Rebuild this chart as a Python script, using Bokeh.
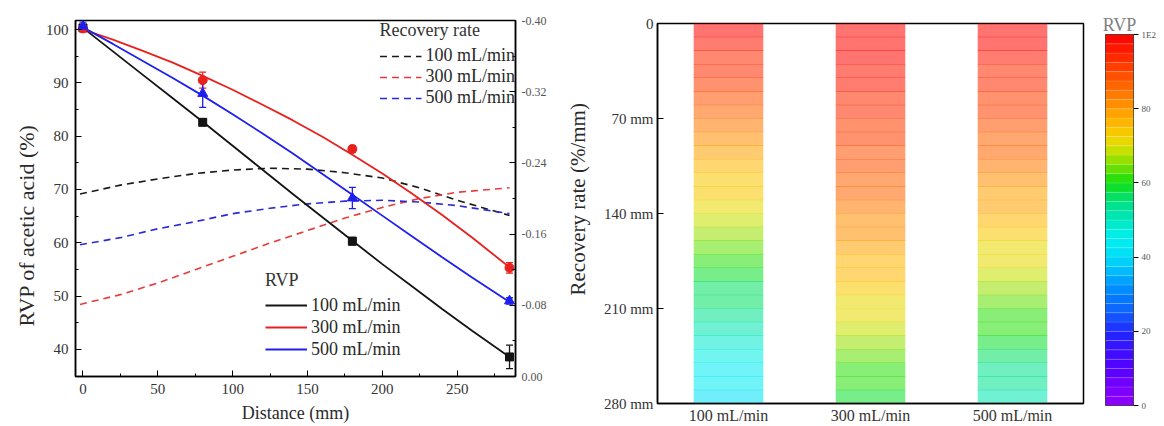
from bokeh.plotting import figure
from bokeh.models import (Range1d, LinearAxis, Legend, LegendItem, Whisker, TeeHead,
                          ColumnDataSource, FixedTicker, LinearColorMapper,
                          FactorRange, PrintfTickFormatter, Title)
from bokeh.layouts import row
from bokeh.embed import file_html
from bokeh.resources import INLINE

FONT = "Liberation Serif"
TXT = "#2a2a2a"

# ---------------- data: left panel ----------------
flows = ["100 mL/min", "300 mL/min", "500 mL/min"]
distance = [0, 80, 180, 285]
rvp_100 = [100.3, 82.6, 60.3, 38.6]
rvp_300 = [100.2, 90.5, 77.6, 55.3]
rvp_500 = [100.6, 88.0, 68.4, 49.1]
err_100 = [0.5, 0.6, 0.7, 2.2]
err_300 = [0.4, 1.5, 0.6, 1.0]
err_500 = [0.8, 2.6, 2.0, 0.6]

fit_x = [0, 20, 40, 60, 80, 100, 120, 140, 160, 180, 200, 220, 240, 260, 285]
fit_100 = [100.3, 95.9, 91.5, 87.1, 82.7, 78.2, 73.7, 69.2, 64.8, 60.4, 56.0, 51.8, 47.6, 43.5, 38.6]
fit_300 = [100.0, 98.1, 96.0, 93.8, 91.3, 88.7, 85.9, 83.0, 79.9, 76.5, 73.0, 69.2, 65.2, 61.0, 55.4]
fit_500 = [100.4, 97.3, 94.1, 90.9, 87.6, 84.1, 80.5, 76.8, 72.9, 69.0, 65.1, 61.2, 57.3, 53.5, 48.9]

rate_x = [-2, 25, 50, 75, 100, 125, 150, 175, 200, 225, 250, 285]
rate_100 = [-0.205, -0.215, -0.222, -0.228, -0.232, -0.234, -0.233, -0.229, -0.223, -0.212, -0.198, -0.181]
rate_300 = [-0.081, -0.092, -0.105, -0.120, -0.135, -0.150, -0.164, -0.178, -0.190, -0.200, -0.207, -0.212]
rate_500 = [-0.148, -0.156, -0.166, -0.174, -0.183, -0.189, -0.194, -0.197, -0.198, -0.196, -0.192, -0.183]

left_ticks = [40, 50, 60, 70, 80, 90, 100]
bottom_ticks = [0, 50, 100, 150, 200, 250]
right_ticks = [0.0, -0.08, -0.16, -0.24, -0.32, -0.40]

# ---------------- data: right panel (heat map) ----------------
depth = [5, 15, 25, 35, 45, 55, 65, 75, 85, 95, 105, 115, 125, 135,
         145, 155, 165, 175, 185, 195, 205, 215, 225, 235, 245, 255, 265, 275]
map_100 = [99.2, 97.1, 94.9, 92.6, 90.4, 88.2, 85.9, 83.7, 81.5, 79.3, 77.0, 74.8, 72.6, 70.4,
           68.1, 65.9, 63.7, 61.6, 59.4, 57.3, 55.2, 53.1, 51.0, 48.9, 46.8, 44.8, 42.7, 40.6]
map_300 = [99.5, 98.5, 97.5, 96.5, 95.4, 94.2, 93.0, 91.9, 90.6, 89.3, 87.9, 86.6, 85.2, 83.6,
           82.2, 80.6, 79.0, 77.3, 75.6, 73.9, 72.0, 70.1, 68.2, 66.3, 64.3, 62.2, 60.1, 57.8]
map_500 = [99.6, 98.0, 96.5, 94.9, 93.3, 91.7, 90.0, 88.4, 86.7, 85.0, 83.2, 81.4, 79.6, 77.8,
           75.8, 73.9, 71.9, 70.0, 68.0, 66.1, 64.1, 62.2, 60.2, 58.3, 56.3, 54.5, 52.6, 50.8]
depth_ticks = [0, 70, 140, 210, 280]
depth_labels = ["0", "70 mm", "140 mm", "210 mm", "280 mm"]
cbar_ticks = [0, 20, 40, 60, 80, 100]
cbar_labels = ["0", "20", "40", "60", "80", "1E2"]

# ---------------- palette (style) ----------------
anchors = [(0, "#9000ff"), (5, "#7800ff"), (10, "#5500ff"), (15, "#3a10ff"), (20, "#2028ff"),
           (25, "#1060ff"), (30, "#0080ff"), (35, "#00b0ff"), (40, "#00dcf8"), (45, "#00f0f0"),
           (50, "#00e8c0"), (55, "#00e080"), (60, "#10e010"), (65, "#80e000"), (70, "#e0e000"),
           (75, "#ffc000"), (80, "#ff9900"), (85, "#ff7000"), (90, "#ff4800"), (95, "#ff2000"),
           (100, "#ff0000")]


def _hex(c):
    return [int(c[i:i + 2], 16) for i in (1, 3, 5)]


def colour_at(v):
    for (v0, c0), (v1, c1) in zip(anchors[:-1], anchors[1:]):
        if v0 <= v <= v1:
            t = (v - v0) / (v1 - v0)
            a, b = _hex(c0), _hex(c1)
            return "#%02x%02x%02x" % tuple(int(round(a[k] + (b[k] - a[k]) * t)) for k in range(3))
    return anchors[-1][1]


NLEV = 40
palette = [colour_at((i + 0.5) * 100.0 / NLEV) for i in range(NLEV)]


def style_axis(ax, size="15px"):
    ax.axis_line_color = "black"
    ax.axis_line_width = 1.5
    ax.major_tick_in = 6
    ax.major_tick_out = 0
    ax.minor_tick_in = 3
    ax.minor_tick_out = 0
    ax.major_tick_line_color = "black"
    ax.minor_tick_line_color = "black"
    ax.major_label_text_font = FONT
    ax.major_label_text_font_size = size
    ax.major_label_text_color = "#333333"
    ax.axis_label_text_font = FONT
    ax.axis_label_text_font_style = "normal"
    ax.axis_label_text_color = TXT


def side_title(text, offset, standoff, size="21px"):
    return Title(text=text, align="left", offset=offset, standoff=standoff,
                 text_font=FONT, text_font_size=size, text_font_style="normal",
                 text_color=TXT)


# ---------------- left figure ----------------
p1 = figure(width=551, height=426, x_range=Range1d(-5, 289), y_range=Range1d(34.93, 101.69),
            output_backend="svg", toolbar_location=None,
            min_border_left=75, min_border_right=36, min_border_top=20, min_border_bottom=50)
p1.frame_align = False
p1.extra_y_ranges = {"rate": Range1d(0, -0.40)}
p1.grid.visible = False
p1.outline_line_color = "black"
p1.outline_line_width = 1.5

p1.xaxis.ticker = FixedTicker(ticks=bottom_ticks, minor_ticks=[25, 75, 125, 175, 225, 275])
p1.yaxis.ticker = FixedTicker(ticks=left_ticks, minor_ticks=[35, 45, 55, 65, 75, 85, 95])
for ax in p1.xaxis + p1.yaxis:
    style_axis(ax)
p1.xaxis.axis_label = "Distance (mm)"
p1.xaxis.axis_label_text_font_size = "18px"
p1.xaxis.major_label_standoff = 7
p1.xaxis.axis_label_standoff = 6
p1.yaxis.major_label_standoff = 7
p1.add_layout(side_title("RVP of acetic acid (%)", offset=50, standoff=8, size="22px"), "left")

rax = LinearAxis(y_range_name="rate",
                 ticker=FixedTicker(ticks=right_ticks,
                                    minor_ticks=[-0.04, -0.12, -0.20, -0.28, -0.36]),
                 formatter=PrintfTickFormatter(format="%.2f"))
style_axis(rax, size="12px")
rax.major_label_text_color = "#555555"
rax.major_label_standoff = 6
p1.add_layout(rax, "right")

cols = {"k": "#141414", "r": "#e8201e", "b": "#1e1ef0"}
dcols = {"k": "#1a1a1a", "r": "#e83a3a", "b": "#2a2ad8"}

# dashed recovery-rate curves
d100 = p1.line(rate_x, rate_100, y_range_name="rate", line_color=dcols["k"], line_width=1.6, line_dash="7 5")
d300 = p1.line(rate_x, rate_300, y_range_name="rate", line_color=dcols["r"], line_width=1.6, line_dash="7 5")
d500 = p1.line(rate_x, rate_500, y_range_name="rate", line_color=dcols["b"], line_width=1.6, line_dash="7 5")

# fitted RVP curves
f100 = p1.line(fit_x, fit_100, line_color=cols["k"], line_width=1.8)
f300 = p1.line(fit_x, fit_300, line_color=cols["r"], line_width=1.8)
f500 = p1.line(fit_x, fit_500, line_color=cols["b"], line_width=1.8)

for vals, errs, c in ((rvp_100, err_100, cols["k"]), (rvp_300, err_300, cols["r"]),
                      (rvp_500, err_500, cols["b"])):
    src = ColumnDataSource(dict(x=distance, lo=[v - e for v, e in zip(vals, errs)],
                                hi=[v + e for v, e in zip(vals, errs)]))
    p1.add_layout(Whisker(source=src, base="x", lower="lo", upper="hi", dimension="height",
                          line_color=c, line_width=1.3,
                          upper_head=TeeHead(size=7, line_color=c, line_width=1.3),
                          lower_head=TeeHead(size=7, line_color=c, line_width=1.3)))

p1.scatter(distance, rvp_100, marker="square", size=8, color=cols["k"])
p1.scatter(distance, rvp_300, marker="circle", size=9, color=cols["r"])
p1.scatter(distance, rvp_500, marker="triangle", size=10, color=cols["b"])


def style_legend(lg, gh):
    lg.label_text_font = FONT
    lg.label_text_font_size = "18px"
    lg.label_text_color = TXT
    lg.title_text_font = FONT
    lg.title_text_font_size = "18px"
    lg.title_text_font_style = "normal"
    lg.title_text_color = "#333333"
    lg.background_fill_alpha = 0
    lg.border_line_alpha = 0
    lg.glyph_width = 42
    lg.glyph_height = gh
    lg.label_height = gh
    lg.spacing = 0
    lg.padding = 0
    lg.margin = 0
    lg.label_standoff = 4


leg_rate = Legend(items=[LegendItem(label=f, renderers=[r]) for f, r in zip(flows, [d100, d300, d500])],
                  title="Recovery rate", location="top_right")
style_legend(leg_rate, 20)
leg_rate.title_standoff = 4
p1.add_layout(leg_rate)

leg_rvp = Legend(items=[LegendItem(label=f, renderers=[r]) for f, r in zip(flows, [f100, f300, f500])],
                 title="RVP", location=(190, 16))
style_legend(leg_rvp, 22)
leg_rvp.title_standoff = 3
p1.add_layout(leg_rvp)

# ---------------- right figure (heat map) ----------------
mapper = LinearColorMapper(palette=palette, low=0, high=100)
heat = ColumnDataSource(dict(
    flow=[f for f in flows for _ in depth],
    depth=depth * 3,
    rvp=map_100 + map_300 + map_500,
))

p2 = figure(width=539, height=426, x_range=FactorRange(*flows), y_range=Range1d(280, 0),
            output_backend="svg", toolbar_location=None,
            min_border_left=106, min_border_right=7, min_border_top=23, min_border_bottom=21)
p2.frame_align = False
p2.grid.visible = False
p2.outline_line_color = "black"
p2.outline_line_width = 1.5
p2.rect(x="flow", y="depth", width=0.49, height=10.4, source=heat,
        fill_color={"field": "rvp", "transform": mapper}, fill_alpha=0.56, line_color=None)

p2.yaxis.ticker = FixedTicker(ticks=depth_ticks)
p2.yaxis.major_label_overrides = {t: l for t, l in zip(depth_ticks, depth_labels)}
for ax in p2.xaxis + p2.yaxis:
    style_axis(ax, size="15px")
p2.xaxis.major_tick_line_color = None
p2.xaxis.major_label_standoff = 3
p2.yaxis.major_label_standoff = 4
p2.xaxis.major_label_text_font_size = "16px"

# title of the left panel's right axis, read bottom-to-top like the reference
p2.add_layout(side_title("Recovery rate (%/mm)", offset=108, standoff=22), "left")

# ---------------- colour bar (own small figure) ----------------
lev_lo = [i * 100.0 / NLEV for i in range(NLEV)]
lev_hi = [(i + 1) * 100.0 / NLEV for i in range(NLEV)]
p3 = figure(width=74, height=426, x_range=Range1d(0, 1), y_range=Range1d(0, 100),
            y_axis_location="right", output_backend="svg", toolbar_location=None,
            min_border_left=15, min_border_right=31, min_border_top=34, min_border_bottom=21)
p3.frame_align = False
p3.grid.visible = False
p3.xaxis.visible = False
p3.outline_line_color = "#333333"
p3.outline_line_width = 1
p3.quad(left=0, right=1, bottom=lev_lo, top=lev_hi, fill_color=palette,
        line_color="white", line_alpha=0.25, line_width=0.5)
ya = p3.yaxis[0]
ya.ticker = FixedTicker(ticks=cbar_ticks)
ya.major_label_overrides = {t: l for t, l in zip(cbar_ticks, cbar_labels)}
ya.axis_line_color = None
ya.major_tick_in = 0
ya.major_tick_out = 5
ya.major_tick_line_color = "black"
ya.minor_tick_line_color = None
ya.major_label_text_font = FONT
ya.major_label_text_font_size = "9px"
ya.major_label_text_color = "#555555"
ya.major_label_standoff = 3
p3.title.text = "RVP"
p3.title.align = "center"
p3.title.standoff = 0
p3.title.text_font = FONT
p3.title.text_font_size = "18px"
p3.title.text_font_style = "normal"
p3.title.text_color = "#808080"

layout = row(p1, p2, p3)
open("out.html", "w").write(file_html(layout, INLINE))
